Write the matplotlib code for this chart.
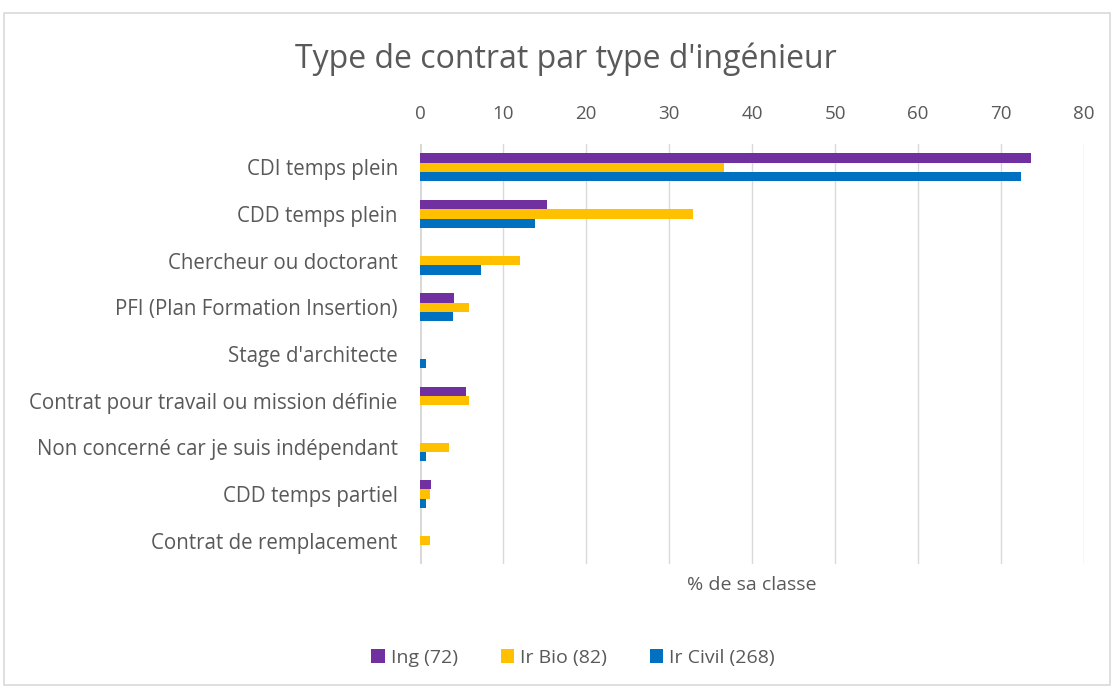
import matplotlib

matplotlib.use("Agg")
import matplotlib.pyplot as plt
import numpy as np
from matplotlib.patches import Rectangle

plt.rcParams["font.family"] = ["Open Sans", "DejaVu Sans"]

categories = [
    "CDI temps plein",
    "CDD temps plein",
    "Chercheur ou doctorant",
    "PFI (Plan Formation Insertion)",
    "Stage d'architecte",
    "Contrat pour travail ou mission définie",
    "Non concerné car je suis indépendant",
    "CDD temps partiel",
    "Contrat de remplacement",
]
ing = [73.6, 15.3, 0, 4.1, 0, 5.5, 0, 1.3, 0]
ir_bio = [36.6, 32.9, 12.1, 5.9, 0, 5.9, 3.5, 1.2, 1.2]
ir_civil = [72.4, 13.8, 7.3, 4.0, 0.7, 0, 0.7, 0.7, 0]
series_labels = ["Ing (72)", "Ir Bio (82)", "Ir Civil (268)"]
series_colors = ["#7030A0", "#FFC000", "#0070C0"]

TXT = "#595959"

fig = plt.figure(figsize=(11.14, 6.86), dpi=100)
ax = fig.add_axes([420 / 1114, 1 - 564 / 686, 664 / 1114, 420 / 686])

y = np.arange(len(categories))
h = 0.2
for offset, vals, col, lab in zip([-h, 0, h], [ing, ir_bio, ir_civil], series_colors, series_labels):
    ax.barh(y + offset, vals, height=h, color=col, label=lab, zorder=2)

ax.set_ylim(len(categories) - 0.5, -0.5)
ax.set_xlim(0, 80)
ax.set_xticks(range(0, 81, 10))
ax.set_yticks(y)
ax.set_yticklabels(categories, fontsize=14.8, color=TXT)
ax.xaxis.tick_top()
ax.tick_params(axis="x", length=0, pad=15, labelsize=13.5, labelcolor=TXT)
ax.tick_params(axis="y", length=0, pad=16)
for s in ax.spines.values():
    s.set_visible(False)
ax.grid(axis="x", color="#D9D9D9", linewidth=1.0, zorder=0)
ax.axvline(0, color="#D9D9D9", linewidth=2.2, zorder=1)
ax.set_axisbelow(True)

ax.set_xlabel("% de sa classe", fontsize=14, color=TXT, labelpad=9)

fig.text(566 / 1114, 1 - 59 / 686, "Type de contrat par type d'ingénieur",
         ha="center", va="center", fontsize=23, color=TXT)

handles, labels = ax.get_legend_handles_labels()
fig.legend(handles, labels, loc="center", bbox_to_anchor=(573 / 1114, 1 - 658 / 686),
           ncol=3, frameon=False, fontsize=14, labelcolor=TXT,
           handlelength=0.7, handleheight=0.7, handletextpad=0.3, columnspacing=2.2)

fig.patches.append(Rectangle((4 / 1114, 0.002), 1106 / 1114, 1 - 13 / 686 - 0.002,
                             transform=fig.transFigure, fill=False,
                             edgecolor="#D9D9D9", linewidth=1.2))

fig.savefig("out.png", dpi=100)
